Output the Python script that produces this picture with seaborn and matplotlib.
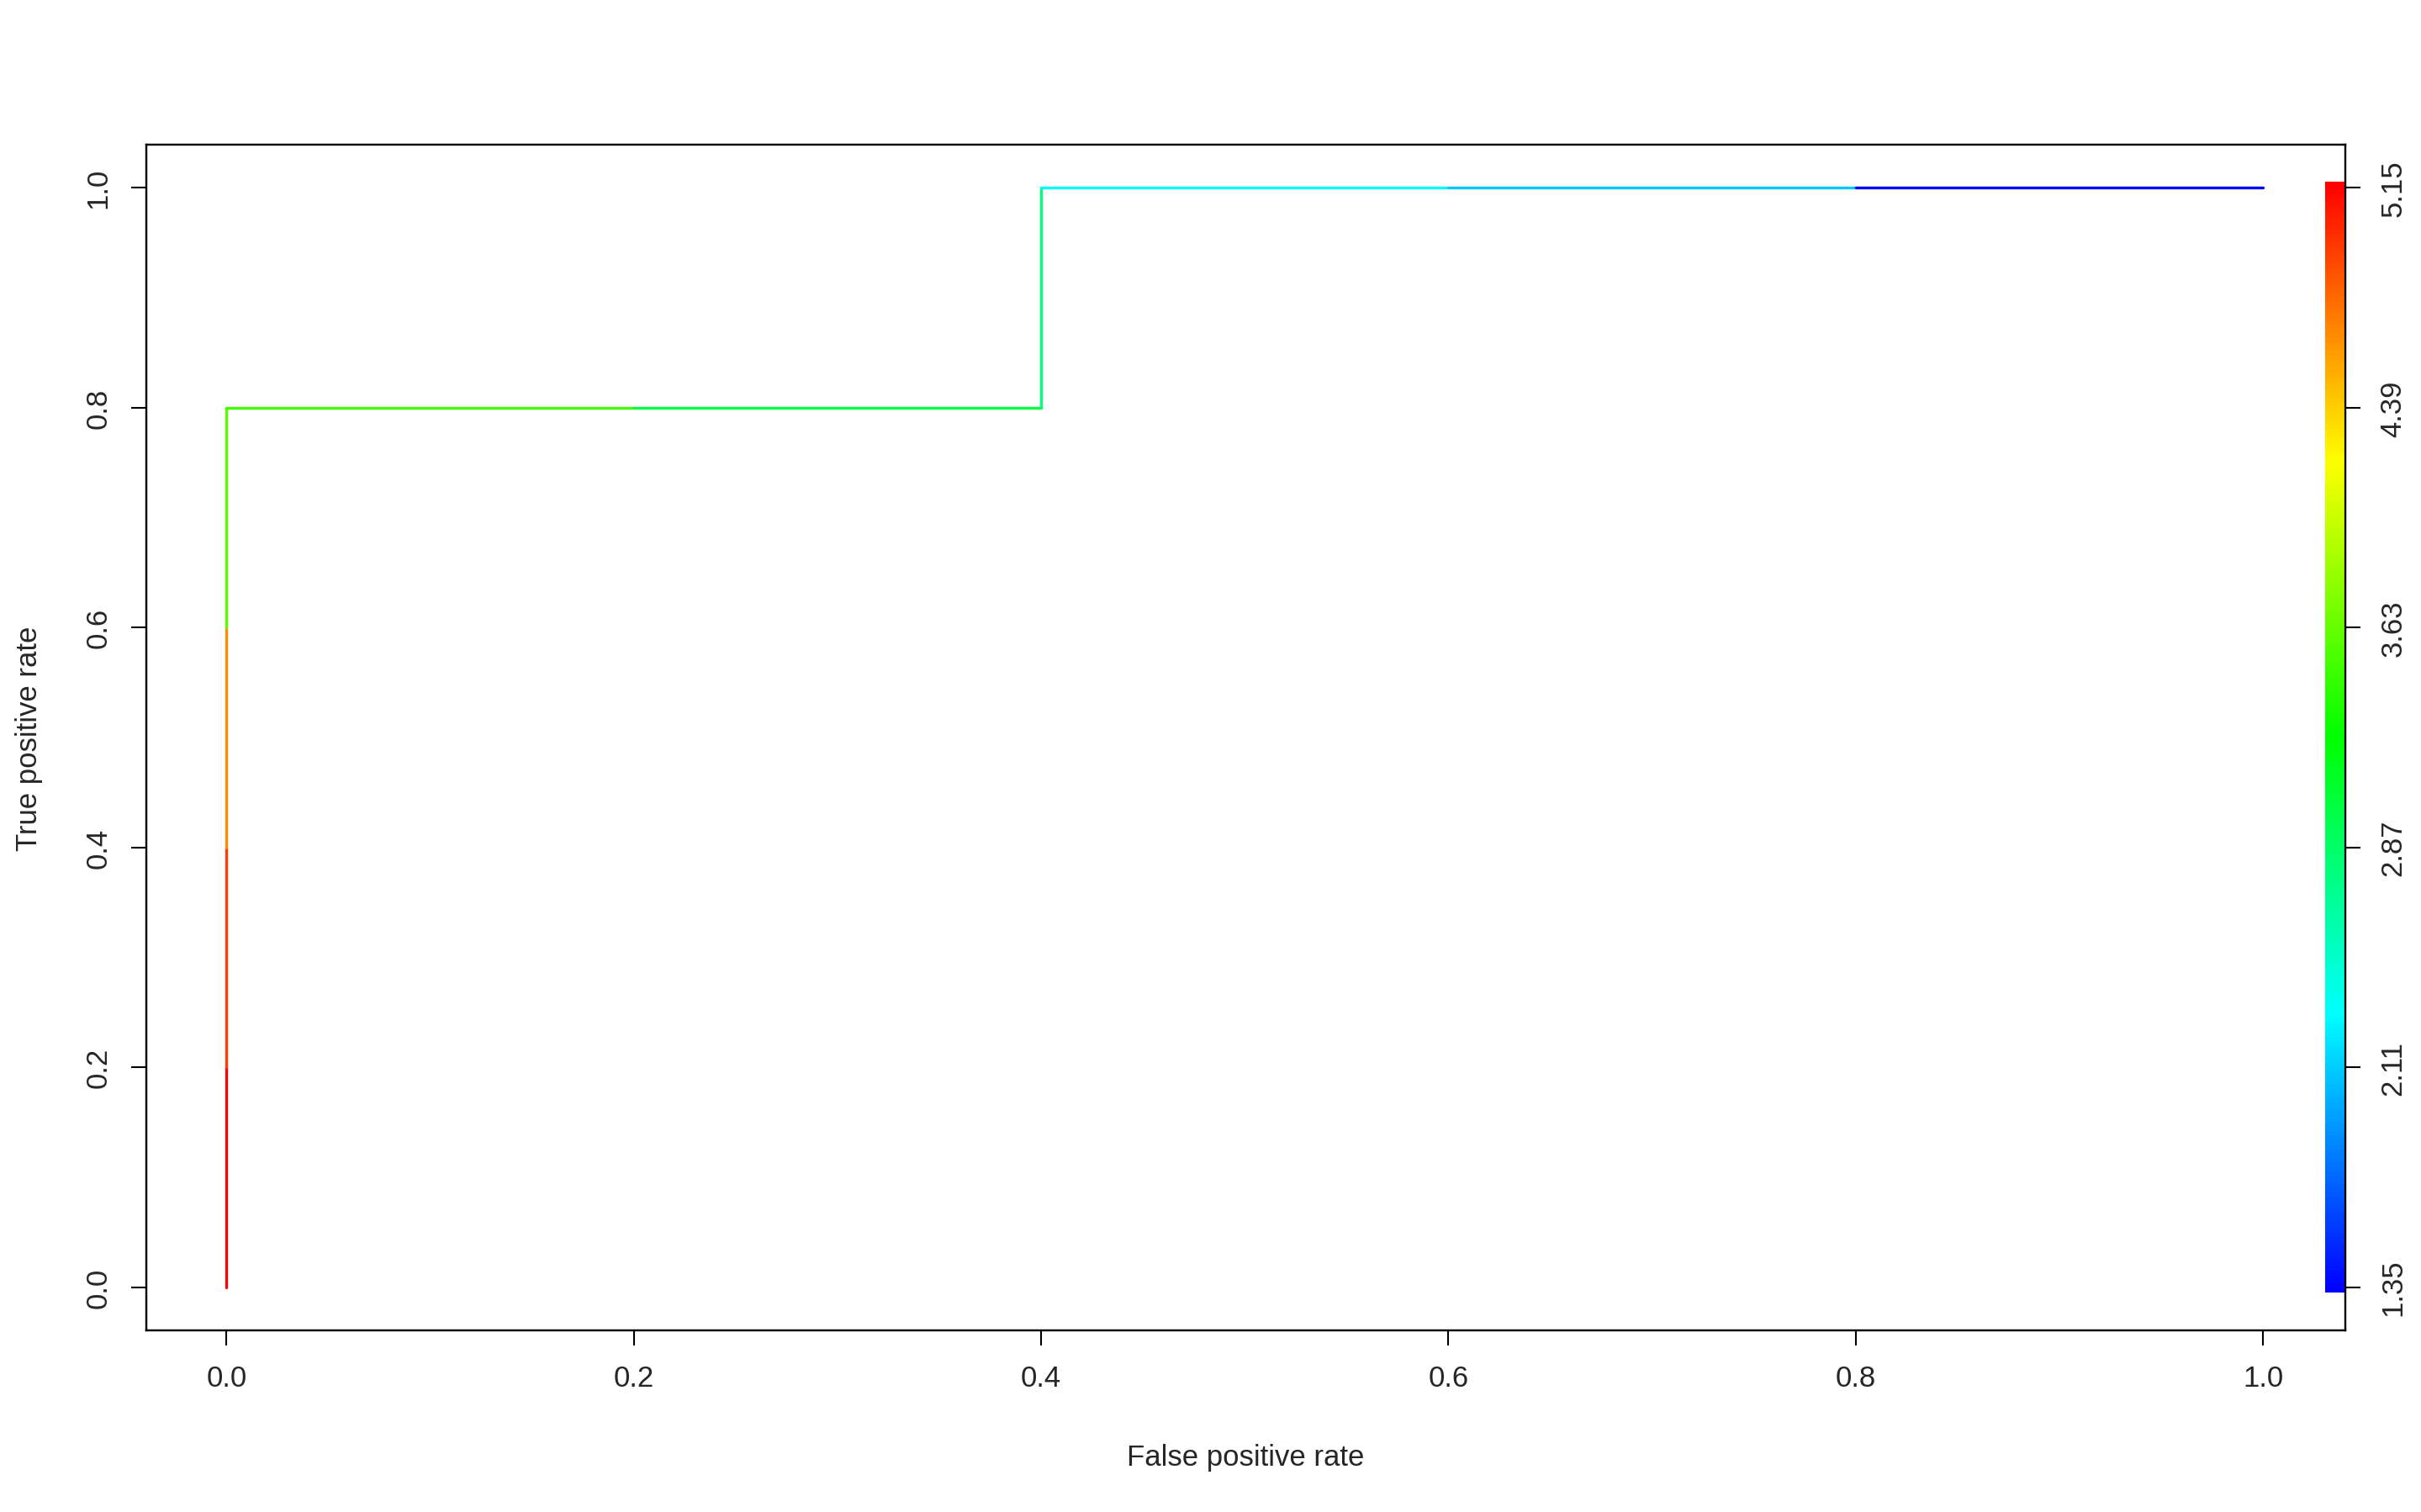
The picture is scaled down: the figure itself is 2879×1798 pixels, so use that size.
"""
ROC curve coloured by cutoff, with a rainbow colour key on the right side
"""

import matplotlib.pyplot as plt
import numpy as np
import pandas as pd
import seaborn as sns
from matplotlib.colors import LinearSegmentedColormap, Normalize, hsv_to_rgb

# ROC points (false positive rate, true positive rate)
fpr = [0.0, 0.0, 0.0, 0.0, 0.0, 0.2, 0.4, 0.4, 0.6, 0.8, 1.0]
tpr = [0.0, 0.2, 0.4, 0.6, 0.8, 0.8, 0.8, 1.0, 1.0, 1.0, 1.0]
# cutoff used to colour each segment between consecutive points
seg_cutoff = [5.15, 4.92, 4.62, 3.57, 3.5, 3.0, 2.78, 2.3, 2.1, 1.35]
# colour key labels
key_labels = ['1.35', '2.11', '2.87', '3.63', '4.39', '5.15']
x_ticks = [0.0, 0.2, 0.4, 0.6, 0.8, 1.0]
y_ticks = [0.0, 0.2, 0.4, 0.6, 0.8, 1.0]


def main():
    sns.set_theme(style='ticks')
    plt.rcParams['font.family'] = ['Liberation Sans', 'DejaVu Sans']

    # rainbow from blue (low cutoff) to red (high cutoff)
    hues = np.linspace(240, 0, 256) / 360
    rgb = hsv_to_rgb(np.stack([hues, np.ones(256), np.ones(256)], axis=1))
    cmap = LinearSegmentedColormap.from_list('roc_rainbow', rgb)
    lo, hi = float(key_labels[0]), float(key_labels[-1])
    norm = Normalize(lo, hi)

    rows = []
    for i, c in enumerate(seg_cutoff):
        rows.append({'seg': i, 'fpr': fpr[i], 'tpr': tpr[i]})
        rows.append({'seg': i, 'fpr': fpr[i + 1], 'tpr': tpr[i + 1]})
    df = pd.DataFrame(rows)
    palette = {i: cmap(norm(c)) for i, c in enumerate(seg_cutoff)}

    fig = plt.figure(figsize=(28.79, 17.99), dpi=100)
    ax = fig.add_axes([174 / 2879, 1 - 1583 / 1799, (2789 - 174) / 2879, (1583 - 173) / 1799])
    sns.lineplot(data=df, x='fpr', y='tpr', hue='seg', units='seg', estimator=None,
                 sort=False, palette=palette, legend=False, lw=2.4, ax=ax)

    # colour key inside the plot region on the right
    grad = np.linspace(lo, hi, 256).reshape(-1, 1)
    ax.imshow(grad, cmap=cmap, norm=norm, origin='lower', aspect='auto',
              extent=[1.0303, 1.0404, -0.005, 1.005], zorder=3)
    ax.set_xlim(-0.0394, 1.0404)
    ax.set_ylim(-0.0393, 1.0393)

    fs = 25
    ax.set_xticks(x_ticks)
    ax.set_xticklabels([f'{v:.1f}' for v in x_ticks], fontsize=fs)
    ax.set_yticks(y_ticks)
    ax.set_yticklabels([f'{v:.1f}' for v in y_ticks], fontsize=fs,
                       rotation=90, va='center')
    ax.tick_params(length=13, width=1.5, pad=16, color='black')
    ax.set_xlabel('False positive rate', fontsize=fs, labelpad=44)
    ax.set_ylabel('True positive rate', fontsize=fs, labelpad=36)

    ax2 = ax.twinx()
    ax2.set_ylim(ax.get_ylim())
    ax2.set_yticks(y_ticks)
    ax2.set_yticklabels(key_labels, fontsize=fs, rotation=90, va='center')
    ax2.tick_params(length=13, width=1.5, pad=16, color='black')

    for a in (ax, ax2):
        for s in a.spines.values():
            s.set_visible(True)
            s.set_color('black')
            s.set_linewidth(1.6)
    ax.grid(False)
    ax2.grid(False)

    plt.savefig('out.png', dpi=100, facecolor='white')


if __name__ == '__main__':
    main()
